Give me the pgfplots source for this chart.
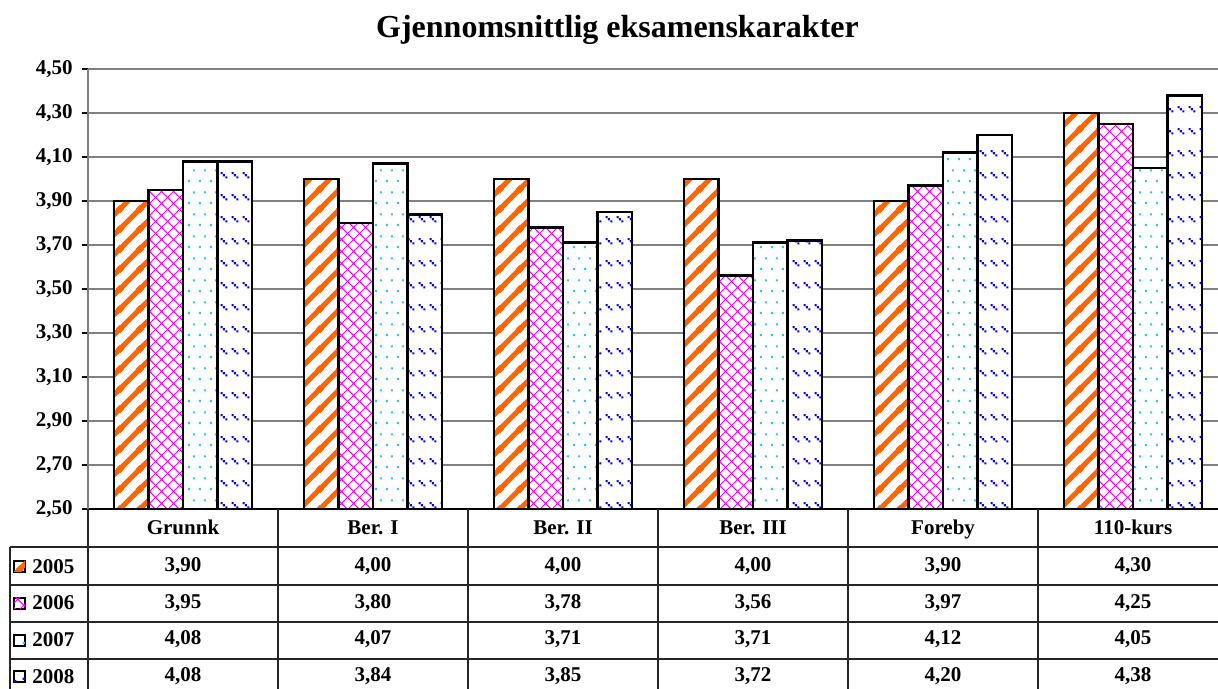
\documentclass[border=0pt]{standalone}
\usepackage{fontspec}
\setmainfont{Liberation Serif}
\usepackage{pgfplots}
\pgfplotsset{compat=1.18}
\usetikzlibrary{patterns}

\definecolor{corange}{HTML}{FF6600}
\definecolor{cmagenta}{HTML}{FF00FF}
\definecolor{ccyan}{HTML}{33CCCC}
\definecolor{cblue}{HTML}{0000FF}
\definecolor{cgrid}{HTML}{808080}

\pgfdeclarepatternformonly{mystripes}{\pgfqpoint{0pt}{0pt}}{\pgfqpoint{10pt}{10pt}}{\pgfqpoint{10pt}{10pt}}{%
  \pgfsetlinewidth{2.6pt}%
  \pgfpathmoveto{\pgfqpoint{-2pt}{-2pt}}\pgfpathlineto{\pgfqpoint{12pt}{12pt}}%
  \pgfpathmoveto{\pgfqpoint{-2pt}{8pt}}\pgfpathlineto{\pgfqpoint{2pt}{12pt}}%
  \pgfpathmoveto{\pgfqpoint{8pt}{-2pt}}\pgfpathlineto{\pgfqpoint{12pt}{2pt}}%
  \pgfusepath{stroke}}

\pgfdeclarepatternformonly{mylattice}{\pgfqpoint{0pt}{0pt}}{\pgfqpoint{6pt}{6pt}}{\pgfqpoint{6pt}{6pt}}{%
  \pgfsetlinewidth{0.55pt}%
  \pgfpathmoveto{\pgfqpoint{-0.5pt}{-0.5pt}}\pgfpathlineto{\pgfqpoint{6.5pt}{6.5pt}}%
  \pgfpathmoveto{\pgfqpoint{-0.5pt}{6.5pt}}\pgfpathlineto{\pgfqpoint{6.5pt}{-0.5pt}}%
  \pgfusepath{stroke}}

\pgfdeclarepatternformonly{mydots}{\pgfqpoint{0pt}{0pt}}{\pgfqpoint{5.5pt}{11pt}}{\pgfqpoint{5.5pt}{11pt}}{%
  \pgfpathrectangle{\pgfqpoint{0.5pt}{0.5pt}}{\pgfqpoint{1.1pt}{1.1pt}}%
  \pgfpathrectangle{\pgfqpoint{3.25pt}{6pt}}{\pgfqpoint{1.1pt}{1.1pt}}%
  \pgfusepath{fill}}

\pgfdeclarepatternformonly{mydashes}{\pgfqpoint{0pt}{0pt}}{\pgfqpoint{5.5pt}{11pt}}{\pgfqpoint{5.5pt}{11pt}}{%
  \pgfpathrectangle{\pgfqpoint{0.3pt}{4.6pt}}{\pgfqpoint{1.1pt}{1.1pt}}%
  \pgfpathrectangle{\pgfqpoint{1.6pt}{3.5pt}}{\pgfqpoint{1.1pt}{1.1pt}}%
  \pgfpathrectangle{\pgfqpoint{2.9pt}{2.4pt}}{\pgfqpoint{1.1pt}{1.1pt}}%
  \pgfusepath{fill}}

\newcommand{\tfont}{\fontsize{10.5}{12}\selectfont\bfseries}

\begin{document}
\begin{tikzpicture}
\useasboundingbox (0,0) rectangle (609pt,344.5pt);
\begin{axis}[
  at={(44pt,90pt)}, anchor=south west,
  scale only axis, width=565pt, height=220pt,
  xmin=-0.5, xmax=5.447, ymin=2.5, ymax=4.5,
  ybar=0pt, bar width=17.25pt,
  axis x line*=bottom, axis y line*=left,
  x axis line style={black, line width=1.2pt},
  y axis line style={cgrid, line width=0.9pt},
  ytick={2.5,2.7,2.9,3.1,3.3,3.5,3.7,3.9,4.1,4.3,4.5},
  xtick={0,1,2,3,4,5},
  xticklabels={Grunnk, Ber. I, Ber. II, Ber. III, Foreby, 110-kurs},
  x tick style={draw=none},
  y tick style={black, line width=0.6pt},
  tick align=outside, major tick length=3pt,
  xticklabel style={anchor=base, yshift=-10pt},
  ymajorgrids, grid style={cgrid, line width=0.75pt},
  ticklabel style={font=\tfont},
  yticklabel style={inner sep=4.5pt, /pgf/number format/.cd, fixed, fixed zerofill, precision=2, use comma, assume math mode=true},
]
\addplot[fill=white, draw=black, line width=1.4pt, postaction={pattern=mystripes, pattern color=corange}]
  coordinates {(0,3.90) (1,4.00) (2,4.00) (3,4.00) (4,3.90) (5,4.30)};
\addplot[fill=white, draw=black, line width=1.4pt, postaction={pattern=mylattice, pattern color=cmagenta}]
  coordinates {(0,3.95) (1,3.80) (2,3.78) (3,3.56) (4,3.97) (5,4.25)};
\addplot[fill=white, draw=black, line width=1.4pt, postaction={pattern=mydots, pattern color=ccyan}]
  coordinates {(0,4.08) (1,4.07) (2,3.71) (3,3.71) (4,4.12) (5,4.05)};
\addplot[fill=white, draw=black, line width=1.4pt, postaction={pattern=mydashes, pattern color=cblue}]
  coordinates {(0,4.08) (1,3.84) (2,3.85) (3,3.72) (4,4.20) (5,4.38)};
\end{axis}

\node[font=\fontsize{16}{19}\selectfont\bfseries] at (308.75pt,329.5pt) {Gjennomsnittlig eksamenskarakter};

\begin{scope}[x=0.5pt, y=-0.5pt, shift={(0,344.5pt)}]
  % table lines
  \foreach \yy in {547,585,622,659} \draw[black!85, line width=0.6pt] (10,\yy) -- (1218,\yy);
  \draw[black!85, line width=0.6pt] (10,547) -- (10,689);
  \foreach \xx in {88,278,468,658,848,1038} \draw[black!85, line width=0.6pt] (\xx,509) -- (\xx,689);
  % legend keys
  \draw[black, line width=0.9pt, fill=white, postaction={pattern=mystripes, pattern color=corange}] (14,561) rectangle (25,572);
  \draw[black, line width=0.9pt, fill=white, postaction={pattern=mylattice, pattern color=cmagenta}] (14,598) rectangle (25,609);
  \draw[black, line width=0.9pt, fill=white, postaction={pattern=mydots, pattern color=ccyan}] (14,635) rectangle (25,646);
  \draw[black, line width=0.9pt, fill=white, postaction={pattern=mydashes, pattern color=cblue}] (14,671) rectangle (25,682);
  % row labels
  \node[font=\tfont, anchor=base west, inner sep=0pt] at (32,574) {2005};
  \node[font=\tfont, anchor=base west, inner sep=0pt] at (32,610) {2006};
  \node[font=\tfont, anchor=base west, inner sep=0pt] at (32,647) {2007};
  \node[font=\tfont, anchor=base west, inner sep=0pt] at (32,684) {2008};
  % values
  \foreach \v [count=\i from 0] in {3{,}90,4{,}00,4{,}00,4{,}00,3{,}90,4{,}30}
    \node[font=\tfont, anchor=base, inner sep=0pt] at (183+190*\i,572) {\v};
  \foreach \v [count=\i from 0] in {3{,}95,3{,}80,3{,}78,3{,}56,3{,}97,4{,}25}
    \node[font=\tfont, anchor=base, inner sep=0pt] at (183+190*\i,608.5) {\v};
  \foreach \v [count=\i from 0] in {4{,}08,4{,}07,3{,}71,3{,}71,4{,}12,4{,}05}
    \node[font=\tfont, anchor=base, inner sep=0pt] at (183+190*\i,645) {\v};
  \foreach \v [count=\i from 0] in {4{,}08,3{,}84,3{,}85,3{,}72,4{,}20,4{,}38}
    \node[font=\tfont, anchor=base, inner sep=0pt] at (183+190*\i,682) {\v};
\end{scope}
\end{tikzpicture}
\end{document}
